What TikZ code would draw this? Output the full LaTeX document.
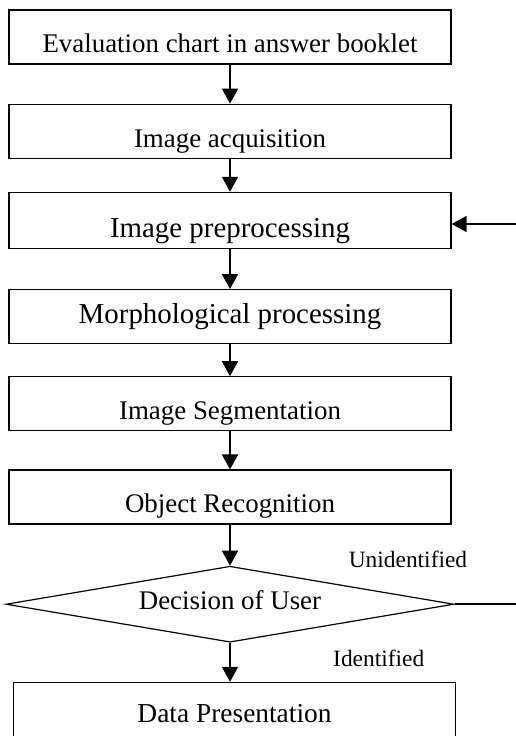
\documentclass[tikz,border=0pt]{standalone}
\usepackage{fontspec}
\setmainfont{Liberation Serif}
\usetikzlibrary{positioning,arrows.meta,calc,shapes.geometric}

\begin{document}
\begin{tikzpicture}[x=1bp,y=1bp,
  stage/.style={draw,line width=1.2bp,minimum width=442bp,minimum height=54bp,inner sep=0pt,text height=43bp,text depth=11bp,font=\fontsize{27}{30}\selectfont},
  conn/.style={-{Triangle[length=15bp,width=16bp]},line width=1.8bp},
  tag/.style={anchor=base west,inner sep=0pt,font=\fontsize{23.5}{26}\selectfont}]
  \clip (0,0) rectangle (516,-736);
  \node[stage] (eval) at (230,-37) {Evaluation chart in answer booklet};
  \node[stage,below=39bp of eval] (acq) {Image acquisition};
  \node[stage,below=33bp of acq,font=\fontsize{29}{32}\selectfont,text height=45bp] (pre) {Image preprocessing};
  \node[stage,below=40bp of pre,font=\fontsize{29}{32}\selectfont,text height=34bp,text depth=20bp] (morph) {Morphological processing};
  \node[stage,below=32bp of morph] (seg) {Image Segmentation};
  \node[stage,below=38bp of seg,text height=42bp,text depth=12bp] (obj) {Object Recognition};
  \node[draw,diamond,aspect=5.9,below=41bp of obj,line width=1.2bp,minimum width=448bp,minimum height=76bp,inner sep=0pt,text height=18bp,text depth=8bp,font=\fontsize{27}{30}\selectfont] (dec) {Decision of User};
  \node[stage,below=39bp of dec,xshift=4.5bp,minimum height=70bp,text height=40bp,text depth=30bp,font=\fontsize{27.5}{30}\selectfont] (pres) {Data Presentation};
  \coordinate (back) at (516,-224);
  \coordinate (out) at ($(dec.east)+(61,0)$);
  \draw[conn] (eval) -- (acq);
  \draw[conn] (acq) -- (pre);
  \draw[conn] (back) -- (back -| pre.east);
  \draw[conn] (pre) -- (morph);
  \draw[conn] (morph) -- (seg);
  \draw[conn] (seg) -- (obj);
  \draw[conn] (obj) -- (dec);
  \draw[conn] (dec.south) -- (dec.south |- pres.north);
  \draw[line width=1.6bp] (dec.east) -- (out);
  \node[tag] (unid) at ($(dec.east)+(-106,37)$) {Unidentified};
  \node[tag] (ident) at ($(dec.south)+(103,-24)$) {Identified};
\end{tikzpicture}
\end{document}
